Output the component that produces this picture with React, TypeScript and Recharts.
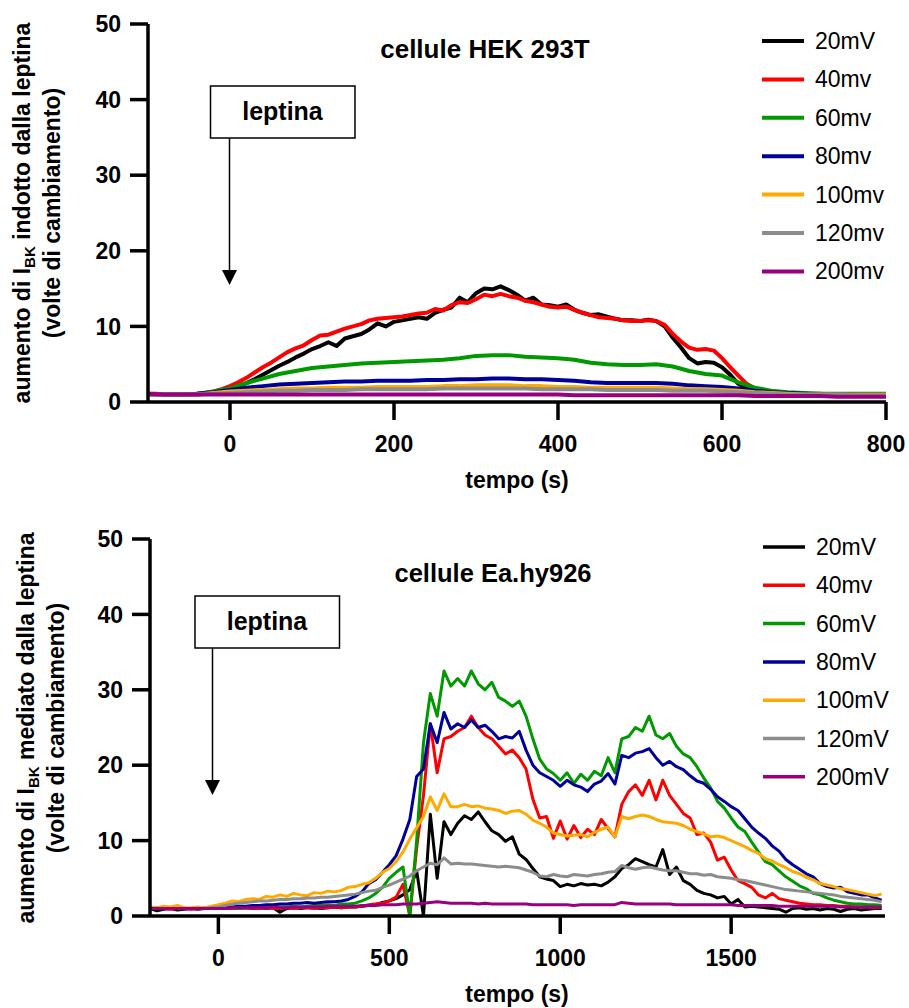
import React from "react";
import { LineChart, Line, XAxis, YAxis } from "recharts";

const FONT = "'Liberation Sans', Arial, Helvetica, sans-serif";

// ---- top panel: cellule HEK 293T (time in s) ----
const hekTimesFine = Array.from({ length: 91 }, (_, i) => -100 + i * 10);
const hekTimesCoarse = Array.from({ length: 46 }, (_, i) => -100 + i * 20);

const hek20 = [
  1.1, 1.0, 1.0, 1.0, 1.0, 1.0, 1.0, 1.1, 1.3, 1.5,
  1.8, 2.1, 2.5, 3.0, 3.6, 4.2, 4.8, 5.3, 5.9, 6.4,
  7.0, 7.4, 7.9, 7.4, 8.4, 8.7, 9.0, 9.6, 10.4, 10.0,
  10.6, 10.8, 11.0, 11.2, 11.0, 11.8, 12.2, 12.5, 13.8, 13.2,
  14.4, 15.0, 14.9, 15.3, 14.8, 14.2, 13.4, 13.8, 12.9, 12.8,
  12.6, 12.9, 12.2, 11.8, 11.5, 11.6, 11.3, 11.0, 10.8, 10.8,
  10.7, 10.9, 10.7, 10.0, 8.5, 7.2, 5.8, 5.1, 5.3, 5.2,
  4.6, 3.6, 2.4, 1.8, 1.4, 1.2, 1.1, 1.0, 1.0, 1.0,
  0.9, 0.9, 0.8, 0.8, 0.8, 0.8, 0.8, 0.8, 0.8, 0.8,
  0.8,
];
const hek40 = [
  1.1, 1.1, 1.0, 1.0, 1.0, 1.0, 1.1, 1.2, 1.4, 1.7,
  2.1, 2.6, 3.2, 3.9, 4.6, 5.2, 5.9, 6.6, 7.1, 7.5,
  8.2, 8.8, 8.9, 9.3, 9.7, 10.0, 10.3, 10.8, 11.0, 11.1,
  11.2, 11.3, 11.5, 11.7, 11.8, 12.3, 12.1, 12.8, 13.2, 13.1,
  13.6, 14.2, 14.0, 14.3, 14.0, 13.8, 13.4, 13.2, 12.9, 12.6,
  12.5, 12.6, 12.2, 11.8, 11.5, 11.2, 11.1, 11.0, 10.8, 10.7,
  10.7, 10.8, 10.7, 10.2, 9.0, 8.0, 7.2, 6.9, 7.0, 6.8,
  5.8, 4.6, 3.5, 2.4, 1.8, 1.5, 1.4, 1.3, 1.2, 1.2,
  1.1, 1.1, 1.1, 1.0, 1.0, 1.0, 1.0, 1.0, 1.0, 1.0,
  1.0,
];
const hek60 = [
  1.0, 1.0, 1.0, 1.1, 1.4,
  1.8, 2.5, 3.1, 3.7, 4.1, 4.5, 4.7, 4.9, 5.1, 5.2,
  5.3, 5.4, 5.5, 5.6, 5.8, 6.1, 6.2, 6.2, 6.0, 5.9,
  5.8, 5.6, 5.2, 5.0, 4.9, 4.9, 5.0, 4.7, 4.1, 3.7,
  3.5, 2.6, 1.9, 1.5, 1.3, 1.2, 1.1, 1.1, 1.1, 1.1,
  1.1,
];
const hek80 = [
  1.0, 1.0, 1.0, 1.1, 1.3,
  1.6, 1.9, 2.1, 2.3, 2.4, 2.5, 2.6, 2.7, 2.7, 2.8,
  2.8, 2.8, 2.9, 2.9, 3.0, 3.0, 3.1, 3.1, 3.0, 3.0,
  2.9, 2.8, 2.6, 2.5, 2.5, 2.5, 2.5, 2.4, 2.2, 2.1,
  2.0, 1.8, 1.5, 1.3, 1.2, 1.1, 1.0, 1.0, 1.0, 1.0,
  1.0,
];
const hek100 = [
  1.0, 1.0, 1.0, 1.0, 1.2,
  1.4, 1.5, 1.6, 1.7, 1.8, 1.8, 1.9, 1.9, 1.9, 2.0,
  2.0, 2.0, 2.0, 2.1, 2.1, 2.2, 2.2, 2.2, 2.1, 2.1,
  2.0, 2.0, 1.9, 1.9, 1.9, 1.9, 1.9, 1.8, 1.7, 1.7,
  1.6, 1.5, 1.3, 1.2, 1.1, 1.0, 1.0, 1.0, 1.0, 1.0,
  1.0,
];
const hek120 = [
  1.0, 1.0, 1.0, 1.0, 1.1,
  1.2, 1.3, 1.4, 1.5, 1.5, 1.6, 1.6, 1.6, 1.7, 1.7,
  1.7, 1.7, 1.7, 1.8, 1.8, 1.8, 1.8, 1.8, 1.8, 1.7,
  1.7, 1.7, 1.7, 1.6, 1.6, 1.6, 1.6, 1.5, 1.5, 1.5,
  1.4, 1.3, 1.2, 1.1, 1.0, 1.0, 1.0, 1.0, 0.9, 0.9,
  0.9,
];
const hek200 = [
  1.1, 1.0, 1.0, 1.0, 1.0,
  1.0, 1.0, 1.0, 1.0, 1.0, 1.0, 1.0, 1.0, 1.0, 1.0,
  1.0, 1.0, 1.0, 1.0, 1.0, 1.0, 1.0, 1.0, 1.0, 1.0,
  1.0, 0.9, 0.9, 0.9, 0.9, 0.9, 0.9, 0.9, 0.9, 0.9,
  0.9, 0.9, 0.8, 0.8, 0.8, 0.8, 0.8, 0.7, 0.7, 0.7,
  0.7,
];

// ---- bottom panel: cellule Ea.hy926 (time in s, every 20 s) ----
const eaTimes = Array.from({ length: 108 }, (_, i) => -200 + i * 20);

const ea20 = [
  1.0, 0.7, 0.9, 1.0, 0.8, 0.9, 1.0, 0.9, 1.0, 1.0,
  1.1, 1.1, 1.0, 1.1, 1.1, 1.0, 1.1, 1.0, 1.1, 0.5,
  1.0, 1.1, 1.0, 1.1, 1.1, 1.0, 1.1, 1.2, 1.1, 1.2,
  1.2, 1.3, 1.4, 1.5, 1.8, 2.0, 2.3, 2.8, 3.5, 6.0,
  0.0, 13.5, 5.0, 12.5, 10.8, 12.3, 13.3, 12.8, 13.8, 12.5,
  11.3, 10.8, 9.9, 10.5, 8.2, 7.5, 6.3, 5.2, 4.9, 4.7,
  3.9, 4.2, 4.0, 4.3, 4.1, 4.2, 4.0, 4.5, 5.2, 6.3,
  6.8, 7.6, 7.2, 6.8, 6.5, 8.8, 5.5, 6.5, 4.7, 4.2,
  3.4, 3.0, 2.8, 2.4, 2.6, 1.6, 2.2, 1.2, 1.3, 1.2,
  1.1, 1.0, 0.9, 0.5, 1.0, 1.1, 0.9, 1.0, 0.8, 1.0,
  0.9, 0.6, 0.9, 1.0, 0.8, 0.9, 1.0, 1.0,
];
const ea40 = [
  1.0, 1.1, 1.0, 0.9, 1.0, 1.0, 0.9, 1.0, 1.0, 1.0,
  1.0, 1.1, 1.0, 1.0, 1.1, 1.0, 1.0, 1.1, 1.0, 1.0,
  1.1, 1.0, 1.1, 1.1, 1.0, 1.1, 1.1, 1.2, 1.1, 1.2,
  1.2, 1.3, 1.5, 1.6, 1.7, 2.0, 2.5, 4.2, 0.0, 9.0,
  16.0, 25.5, 19.0, 23.5, 23.8, 24.5, 25.0, 26.5, 25.0, 24.0,
  23.5, 22.5, 21.5, 22.0, 21.0, 19.5, 15.5, 13.0, 13.2, 10.3,
  12.6, 10.2, 12.0, 10.4, 11.5, 10.8, 12.8, 11.6, 10.5, 14.8,
  16.5, 17.4, 16.0, 18.0, 15.4, 18.0, 16.0, 14.8, 13.6, 13.0,
  10.8, 11.0, 9.8, 7.4, 7.8, 6.1, 4.7, 4.3, 3.8, 2.8,
  2.4, 3.0, 2.3, 2.1, 1.9, 1.7, 1.6, 1.5, 1.5, 1.4,
  1.4, 1.3, 1.3, 1.2, 1.2, 1.2, 1.1, 1.2,
];
const ea60 = [
  1.0, 1.1, 1.0, 1.0, 1.1, 1.0, 1.0, 1.0, 1.1, 1.0,
  1.0, 1.1, 1.1, 1.0, 1.1, 1.1, 1.2, 1.1, 1.2, 1.2,
  1.2, 1.3, 1.2, 1.3, 1.4, 1.4, 1.5, 1.4, 1.6, 1.6,
  1.7, 2.0, 2.4, 3.0, 3.8, 5.0, 5.8, 6.5, 0.0, 10.0,
  23.0, 29.5, 26.5, 32.5, 30.5, 31.5, 30.5, 32.5, 30.8, 30.0,
  31.0, 29.0, 28.5, 27.8, 28.5, 26.5, 23.5, 20.8, 19.5, 18.9,
  18.0, 19.0, 17.6, 18.8, 18.0, 19.2, 18.6, 21.0, 19.0, 23.5,
  23.8, 25.0, 24.5, 26.5, 24.0, 23.5, 24.2, 22.5, 21.5, 21.0,
  19.8, 18.3, 17.0, 15.2, 14.3, 13.0, 11.8, 11.2, 9.8, 8.5,
  7.2, 6.8, 6.0, 5.2, 4.6, 4.0, 3.6, 3.0, 2.8, 2.4,
  2.1, 1.9, 1.7, 1.6, 1.6, 1.5, 1.5, 1.4,
];
const ea80 = [
  1.1, 1.0, 1.1, 1.0, 1.1, 1.0, 1.0, 1.1, 1.0, 1.1,
  1.1, 1.2, 1.2, 1.3, 1.3, 1.4, 1.4, 1.5, 1.5, 1.6,
  1.6, 1.7, 1.7, 1.8, 1.7, 1.8, 1.9, 1.9, 2.0, 2.2,
  2.6, 3.2, 4.3, 4.8, 5.8, 6.8, 8.0, 10.2, 12.8, 18.5,
  19.5, 25.5, 23.0, 27.0, 24.8, 25.5, 25.0, 26.0, 25.0, 25.3,
  24.5, 23.5, 23.8, 23.6, 24.5, 22.0, 20.0, 19.0, 18.5, 18.0,
  17.2, 18.0, 17.4, 17.1, 16.5, 17.5, 17.9, 18.9, 17.5, 21.3,
  21.0, 21.6, 21.8, 22.2, 21.0, 20.0, 20.5, 19.8, 19.4, 18.6,
  17.9, 17.6, 16.8, 15.8, 15.2, 14.5, 14.0, 12.9, 11.8, 11.0,
  10.3, 9.3, 8.6, 7.5, 6.8, 6.2, 5.6, 5.2, 4.3, 3.9,
  3.7, 3.8, 3.2, 3.0, 2.8, 2.8, 2.4, 2.1,
];
const ea100 = [
  1.2, 1.1, 1.3, 1.2, 1.4, 1.1, 1.1, 1.2, 1.1, 1.3,
  1.5, 1.7, 2.0, 1.9, 2.2, 2.3, 2.2, 2.6, 2.5, 2.8,
  2.6, 3.0, 2.8, 2.7, 3.1, 3.0, 3.3, 3.2, 3.4, 3.8,
  3.9, 4.2, 4.4, 5.0, 5.8, 6.3, 7.2, 8.5, 10.2, 11.7,
  13.2, 15.8, 14.0, 16.2, 14.5, 14.5, 14.8, 14.5, 14.6, 14.3,
  14.2, 14.0, 13.6, 13.9, 14.0, 13.5, 12.7, 12.3, 11.8, 11.0,
  10.8, 10.6, 10.7, 10.8, 10.5, 11.1, 11.5, 11.8, 10.5, 13.2,
  12.9, 13.2, 13.4, 13.2, 12.8, 12.5, 12.4, 12.3, 12.0, 11.5,
  11.2, 10.9, 10.5, 10.6, 10.4, 10.0, 9.6, 9.2, 8.7, 8.3,
  7.6, 7.3, 6.8, 6.4, 5.9, 5.6, 5.1, 4.8, 4.3, 4.1,
  3.9, 3.6, 3.5, 3.3, 3.1, 2.9, 2.7, 2.9,
];
const ea120 = [
  1.0, 1.0, 1.0, 1.0, 1.0, 1.0, 1.0, 1.0, 1.0, 1.1,
  1.2, 1.4, 1.6, 1.7, 1.8, 1.9, 2.0, 2.0, 2.1, 2.2,
  2.2, 2.3, 2.3, 2.4, 2.4, 2.5, 2.5, 2.6, 2.7, 2.8,
  2.9, 3.1, 3.3, 3.4, 3.8, 4.1, 4.5, 4.9, 5.3, 6.0,
  6.5, 7.0, 6.8, 7.7, 6.9, 7.0, 6.9, 6.9, 6.8, 6.7,
  6.6, 6.5, 6.6, 6.5, 6.4, 6.1, 5.8, 5.3, 5.2, 5.5,
  5.3, 5.2, 5.5, 5.4, 5.3, 5.5, 5.6, 5.8, 5.9, 6.7,
  6.4, 6.2, 6.4, 6.5, 6.3, 6.1, 6.0, 6.0, 5.8, 5.6,
  5.6, 5.4, 5.5, 5.2, 5.1, 5.0, 4.8, 4.7, 4.5, 4.3,
  4.1, 3.9, 3.7, 3.5, 3.4, 3.3, 3.2, 3.1, 3.0, 2.9,
  2.8, 2.6, 2.5, 2.4, 2.3, 2.2, 2.1, 1.9,
];
const ea200 = [
  1.0, 1.0, 1.0, 1.0, 1.0, 1.0, 1.0, 1.0, 1.0, 1.0,
  1.0, 1.0, 1.1, 1.1, 1.1, 1.1, 1.1, 1.1, 1.2, 1.1,
  1.1, 1.2, 1.2, 1.2, 1.2, 1.2, 1.3, 1.3, 1.3, 1.3,
  1.3, 1.4, 1.4, 1.4, 1.5, 1.5, 1.5, 1.6, 1.6, 1.6,
  1.7, 1.8, 1.9, 1.8, 1.7, 1.7, 1.7, 1.7, 1.6, 1.7,
  1.6, 1.6, 1.6, 1.6, 1.6, 1.6, 1.5, 1.5, 1.5, 1.5,
  1.5, 1.5, 1.4, 1.5, 1.5, 1.5, 1.5, 1.5, 1.5, 1.8,
  1.7, 1.6, 1.6, 1.6, 1.6, 1.6, 1.6, 1.5, 1.5, 1.5,
  1.5, 1.5, 1.5, 1.5, 1.5, 1.5, 1.4, 1.4, 1.4, 1.4,
  1.4, 1.4, 1.3, 1.3, 1.3, 1.3, 1.3, 1.3, 1.3, 1.3,
  1.3, 1.2, 1.2, 1.2, 1.2, 1.2, 1.2, 1.2,
];

const SERIES_COLORS = ["#000000", "#ff0000", "#009900", "#000099", "#ffaa00", "#8c8c8c", "#990080"];

const hekLabels = ["20mV", "40mv", "60mv", "80mv", "100mv", "120mv", "200mv"];
const eaLabels = ["20mV", "40mv", "60mV", "80mV", "100mV", "120mV", "200mV"];

const hekXTicks = [0, 200, 400, 600, 800];
const eaXTicks = [0, 500, 1000, 1500];
const yTicks = [0, 10, 20, 30, 40, 50];

type Series = { name: string; color: string; times: number[]; values: number[] };

const hekSeries: Series[] = [
  { name: hekLabels[0], color: SERIES_COLORS[0], times: hekTimesFine, values: hek20 },
  { name: hekLabels[1], color: SERIES_COLORS[1], times: hekTimesFine, values: hek40 },
  { name: hekLabels[2], color: SERIES_COLORS[2], times: hekTimesCoarse, values: hek60 },
  { name: hekLabels[3], color: SERIES_COLORS[3], times: hekTimesCoarse, values: hek80 },
  { name: hekLabels[4], color: SERIES_COLORS[4], times: hekTimesCoarse, values: hek100 },
  { name: hekLabels[5], color: SERIES_COLORS[5], times: hekTimesCoarse, values: hek120 },
  { name: hekLabels[6], color: SERIES_COLORS[6], times: hekTimesCoarse, values: hek200 },
];

const eaValues = [ea20, ea40, ea60, ea80, ea100, ea120, ea200];
const eaSeries: Series[] = eaValues.map((values, i) => ({
  name: eaLabels[i],
  color: SERIES_COLORS[i],
  times: eaTimes,
  values,
}));

type PanelProps = {
  top: number;
  height: number;
  margin: { top: number; right: number; bottom: number; left: number };
  yAxisWidth: number;
  xAxisHeight: number;
  domain: [number, number];
  xTicks: number[];
  series: Series[];
  lineWidth: number;
};

const tickStyle = { fill: "#000", fontSize: 23, fontWeight: 700, fontFamily: FONT };
const axisStroke = { stroke: "#000", strokeWidth: 3.5 };

function Panel({ top, height, margin, yAxisWidth, xAxisHeight, domain, xTicks, series, lineWidth }: PanelProps) {
  return (
    <div style={{ position: "absolute", left: 0, top }}>
      <LineChart width={909} height={height} margin={margin}>
        <XAxis
          dataKey="t"
          type="number"
          domain={domain}
          ticks={xTicks}
          allowDataOverflow
          height={xAxisHeight}
          tick={tickStyle}
          tickSize={18}
          tickMargin={16}
          axisLine={axisStroke}
          tickLine={axisStroke}
        />
        <YAxis
          type="number"
          domain={[0, 50]}
          ticks={yTicks}
          allowDataOverflow
          width={yAxisWidth}
          tick={tickStyle}
          tickSize={18}
          tickMargin={9}
          axisLine={axisStroke}
          tickLine={axisStroke}
        />
        {series.map((s) => (
          <Line
            key={s.name}
            data={s.times.map((t, i) => ({ t, v: s.values[i] }))}
            dataKey="v"
            type="linear"
            stroke={s.color}
            strokeWidth={lineWidth}
            strokeLinejoin="round"
            dot={false}
            activeDot={false}
            isAnimationActive={false}
          />
        ))}
      </LineChart>
    </div>
  );
}

function LegendBlock({ series, x, y, gap, width }: { series: Series[]; x: number; y: number; gap: number; width: number }) {
  return (
    <g>
      {series.map((s, i) => (
        <g key={s.name}>
          <line x1={x} x2={x + 42} y1={y + i * gap} y2={y + i * gap} stroke={s.color} strokeWidth={width} />
          <text x={x + 53} y={y + i * gap + 8} fontSize={23} fontFamily={FONT} fill="#000">
            {s.name}
          </text>
        </g>
      ))}
    </g>
  );
}

function Leptina({ bx, by, ax, tip }: { bx: number; by: number; ax: number; tip: number }) {
  return (
    <g>
      <rect x={bx} y={by} width={144.5} height={52} fill="#fff" stroke="#000" strokeWidth={1.5} />
      <text x={bx + 72} y={by + 34} textAnchor="middle" fontSize={25} fontWeight={700} fontFamily={FONT} fill="#000">
        leptina
      </text>
      <line x1={ax} x2={ax} y1={by + 52} y2={tip - 12} stroke="#000" strokeWidth={1.5} />
      <polygon points={`${ax - 7.5},${tip - 15} ${ax + 7.5},${tip - 15} ${ax},${tip}`} fill="#000" />
    </g>
  );
}

function YTitle({ x1, x2, cy, verb }: { x1: number; x2: number; cy: number; verb: string }) {
  return (
    <g fontFamily={FONT} fontWeight={700} fontSize={23} fill="#000">
      <text x={x1} y={cy} transform={`rotate(-90 ${x1} ${cy})`} textAnchor="middle">
        aumento di I<tspan fontSize={15} dy={5}>BK</tspan>
        <tspan dy={-5}>{` ${verb} dalla leptina`}</tspan>
      </text>
      <text x={x2} y={cy} transform={`rotate(-90 ${x2} ${cy})`} textAnchor="middle">
        (volte di cambiamento)
      </text>
    </g>
  );
}

export default function App() {
  return (
    <div style={{ position: "absolute", left: 0, top: 0, width: 909, height: 1008, background: "#fff" }}>
      <Panel
        top={0}
        height={500}
        margin={{ top: 24, right: 23, bottom: 0, left: 0 }}
        yAxisWidth={148}
        xAxisHeight={98}
        domain={[-100, 800]}
        xTicks={hekXTicks}
        series={hekSeries}
        lineWidth={4}
      />
      <Panel
        top={500}
        height={508}
        margin={{ top: 39, right: 24, bottom: 0, left: 0 }}
        yAxisWidth={150}
        xAxisHeight={92}
        domain={[-200, 1950]}
        xTicks={eaXTicks}
        series={eaSeries}
        lineWidth={3}
      />
      <svg
        width={909}
        height={1008}
        style={{ position: "absolute", left: 0, top: 0, pointerEvents: "none" }}
      >
        <text x={485} y={58} textAnchor="middle" fontSize={26} fontWeight={700} fontFamily={FONT}>
          cellule HEK 293T
        </text>
        <text x={493} y={582} textAnchor="middle" fontSize={25.5} fontWeight={700} fontFamily={FONT}>
          cellule Ea.hy926
        </text>
        <text x={517} y={488} textAnchor="middle" fontSize={23} fontWeight={700} fontFamily={FONT}>
          tempo (s)
        </text>
        <text x={517} y={1002} textAnchor="middle" fontSize={23} fontWeight={700} fontFamily={FONT}>
          tempo (s)
        </text>
        <YTitle x1={30} x2={60} cy={213} verb="indotto" />
        <YTitle x1={34} x2={64} cy={728} verb="mediato" />
        <Leptina bx={210.5} by={86} ax={229.5} tip={285} />
        <Leptina bx={195} by={596} ax={212.5} tip={795} />
        <LegendBlock series={hekSeries} x={762} y={41} gap={38.4} width={4} />
        <LegendBlock series={eaSeries} x={763} y={547} gap={38.3} width={3.5} />
      </svg>
    </div>
  );
}
